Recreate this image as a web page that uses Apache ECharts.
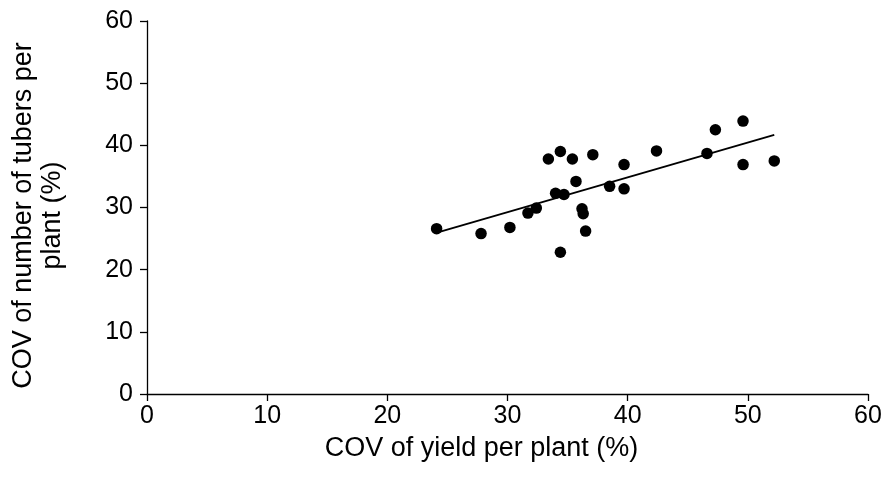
<!DOCTYPE html>
<html>
<head>
<meta charset="utf-8">
<script src="https://cdn.jsdelivr.net/npm/echarts@6/dist/echarts.min.js"></script>
<style>
  html, body { margin: 0; padding: 0; background: #fff; }
  #chart { width: 885px; height: 477px; }
</style>
</head>
<body>
<div id="chart"></div>
<script>
// COV of yield per plant vs COV of number of tubers per plant
const yieldCov = [24.1, 27.8, 30.2, 31.7, 32.4, 33.4, 34.4, 35.4, 37.1, 42.4, 39.7, 35.7, 34.0, 34.7, 38.5, 39.7, 36.2, 36.3, 36.5, 34.4, 47.3, 49.6, 46.6, 49.6, 52.2];
const tuberCov = [26.6, 25.8, 26.8, 29.1, 29.9, 37.8, 39.0, 37.8, 38.5, 39.1, 36.9, 34.2, 32.3, 32.1, 33.4, 33.0, 29.8, 29.0, 26.2, 22.8, 42.5, 43.9, 38.7, 36.9, 37.5];

// linear trend line end points as drawn
const trendX = [24.2, 52.2];
const trendY = [26.0, 41.7];

const xTicks = [0, 10, 20, 30, 40, 50, 60];
const yTicks = [0, 10, 20, 30, 40, 50, 60];

const FONT = 'Liberation Sans, Arial, sans-serif';
const INK = '#000';

function axisBase(ticks) {
  return {
    type: 'value',
    min: ticks[0],
    max: ticks[ticks.length - 1],
    interval: ticks[1] - ticks[0],
    axisLine: { show: true, lineStyle: { color: INK, width: 1.3 } },
    axisTick: { show: true, length: 7, lineStyle: { color: INK, width: 1.3 } },
    splitLine: { show: false },
    nameLocation: 'middle',
  };
}

const chart = echarts.init(document.getElementById('chart'), null, { renderer: 'canvas' });
chart.setOption({
  animation: false,
  grid: { left: 147, right: 17, top: 21, bottom: 83, containLabel: false },
  xAxis: Object.assign(axisBase(xTicks), {
    name: 'COV of yield per plant (%)',
    nameGap: 31,
    nameTextStyle: { color: INK, fontSize: 27, fontFamily: FONT, lineHeight: 29, padding: [0, 52, 0, 0] },
    axisLabel: { color: INK, fontSize: 25, fontFamily: FONT, margin: 10 },
  }),
  yAxis: Object.assign(axisBase(yTicks), {
    name: 'COV of number of tubers per\nplant (%)',
    nameGap: 80,
    nameTextStyle: { color: INK, fontSize: 27, fontFamily: FONT, lineHeight: 29, padding: [0, 16, 0, 0] },
    axisLabel: { color: INK, fontSize: 25, fontFamily: FONT, margin: 14 },
  }),
  series: [
    {
      type: 'scatter',
      symbol: 'circle',
      symbolSize: 11.5,
      itemStyle: { color: INK, opacity: 1 },
      data: yieldCov.map((x, i) => [x, tuberCov[i]]),
      z: 3,
    },
    {
      type: 'line',
      showSymbol: false,
      symbol: 'none',
      lineStyle: { color: INK, width: 1.8 },
      data: trendX.map((x, i) => [x, trendY[i]]),
      z: 2,
    },
  ],
});
</script>
</body>
</html>
